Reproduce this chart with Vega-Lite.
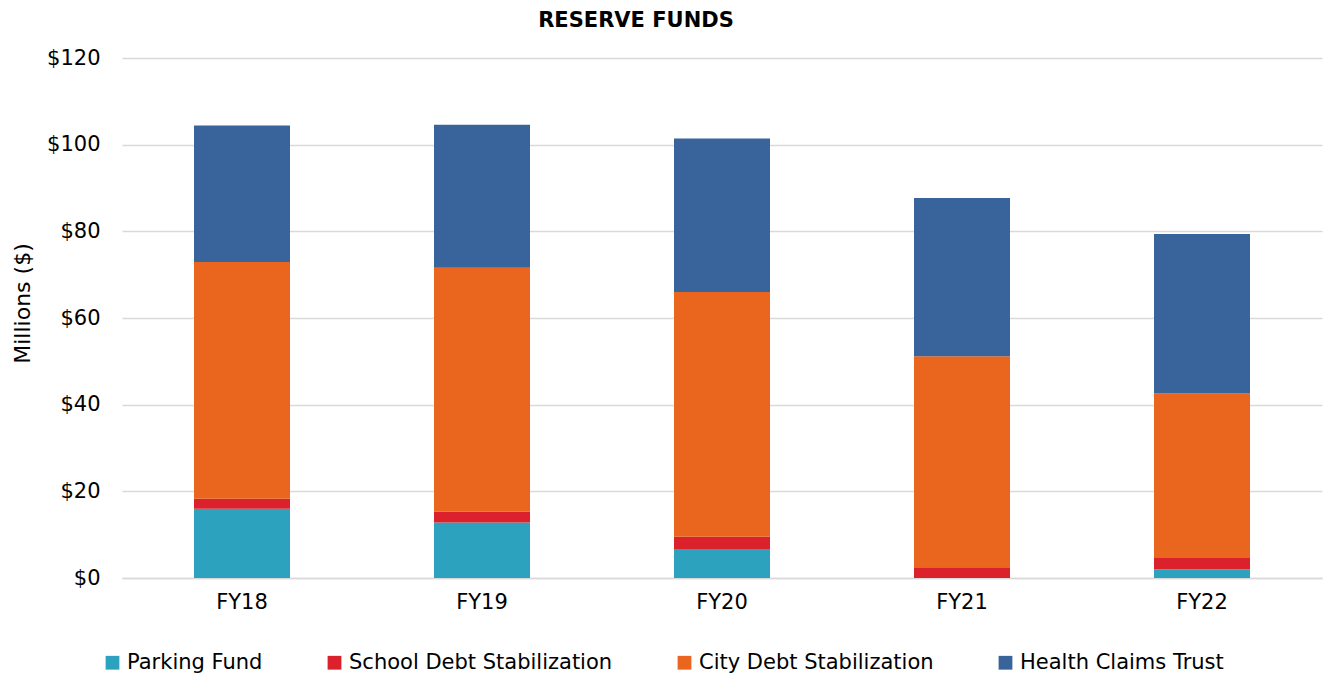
{
  "$schema": "https://vega.github.io/schema/vega-lite/v6.json",
  "width": 1200,
  "height": 520,
  "autosize": {"type": "none"},
  "padding": {"left": 122, "top": 58, "right": 1, "bottom": 103},
  "background": "white",
  "title": {
    "text": "RESERVE FUNDS",
    "font": "DejaVu Sans",
    "fontSize": 21,
    "fontWeight": "bold",
    "color": "#000000",
    "anchor": "middle",
    "dx": -86,
    "offset": 16
  },
  "data": {
    "values": [
      {"year": "FY18", "fund": "Parking Fund", "value": 16.0},
      {"year": "FY18", "fund": "School Debt Stabilization", "value": 2.3},
      {"year": "FY18", "fund": "City Debt Stabilization", "value": 54.6},
      {"year": "FY18", "fund": "Health Claims Trust", "value": 31.5},
      {"year": "FY19", "fund": "Parking Fund", "value": 12.8},
      {"year": "FY19", "fund": "School Debt Stabilization", "value": 2.5},
      {"year": "FY19", "fund": "City Debt Stabilization", "value": 56.3},
      {"year": "FY19", "fund": "Health Claims Trust", "value": 33.0},
      {"year": "FY20", "fund": "Parking Fund", "value": 6.7},
      {"year": "FY20", "fund": "School Debt Stabilization", "value": 2.8},
      {"year": "FY20", "fund": "City Debt Stabilization", "value": 56.5},
      {"year": "FY20", "fund": "Health Claims Trust", "value": 35.4},
      {"year": "FY21", "fund": "Parking Fund", "value": 0},
      {"year": "FY21", "fund": "School Debt Stabilization", "value": 2.5},
      {"year": "FY21", "fund": "City Debt Stabilization", "value": 48.7},
      {"year": "FY21", "fund": "Health Claims Trust", "value": 36.5},
      {"year": "FY22", "fund": "Parking Fund", "value": 2.0},
      {"year": "FY22", "fund": "School Debt Stabilization", "value": 2.6},
      {"year": "FY22", "fund": "City Debt Stabilization", "value": 38.0},
      {"year": "FY22", "fund": "Health Claims Trust", "value": 36.8}
    ]
  },
  "transform": [
    {"calculate": "indexof(['Parking Fund','School Debt Stabilization','City Debt Stabilization','Health Claims Trust'], datum.fund)", "as": "stackOrder"}
  ],
  "mark": {"type": "bar"},
  "encoding": {
    "x": {
      "field": "year",
      "type": "nominal",
      "scale": {"paddingInner": 0.6, "paddingOuter": 0.3},
      "axis": {
        "title": null,
        "labelAngle": 0,
        "labelFont": "DejaVu Sans",
        "labelFontSize": 21,
        "labelColor": "#000000",
        "labelPadding": 13,
        "ticks": false,
        "domain": true,
        "domainColor": "#D9D9D9",
        "domainWidth": 1.5,
        "grid": false
      }
    },
    "y": {
      "field": "value",
      "type": "quantitative",
      "stack": "zero",
      "scale": {"domain": [0, 120], "nice": false},
      "axis": {
        "title": "Millions ($)",
        "titleFont": "DejaVu Sans",
        "titleFontSize": 22,
        "titleFontWeight": "normal",
        "titleColor": "#000000",
        "titlePadding": 12,
        "titleY": 245,
        "values": [0, 20, 40, 60, 80, 100, 120],
        "labelExpr": "'$' + datum.value",
        "labelFont": "DejaVu Sans",
        "labelFontSize": 21,
        "labelColor": "#000000",
        "labelPadding": 22,
        "ticks": false,
        "domain": false,
        "grid": true,
        "gridColor": "#D9D9D9",
        "gridWidth": 1.5
      }
    },
    "order": {"field": "stackOrder", "type": "quantitative", "sort": "ascending"},
    "color": {
      "field": "fund",
      "type": "nominal",
      "sort": ["Parking Fund", "School Debt Stabilization", "City Debt Stabilization", "Health Claims Trust"],
      "scale": {
        "domain": ["Parking Fund", "School Debt Stabilization", "City Debt Stabilization", "Health Claims Trust"],
        "range": ["#2DA2BF", "#DB212B", "#EA651D", "#39639B"]
      },
      "legend": {
        "title": null,
        "orient": "none",
        "direction": "horizontal",
        "legendX": -20,
        "legendY": 594,
        "symbolType": "square",
        "symbolSize": 190,
        "symbolStrokeWidth": 0,
        "labelFont": "DejaVu Sans",
        "labelFontSize": 21,
        "labelColor": "#000000",
        "labelOffset": 4,
        "columnPadding": 61,
        "labelLimit": 400
      }
    }
  },
  "config": {
    "view": {"stroke": null}
  }
}
